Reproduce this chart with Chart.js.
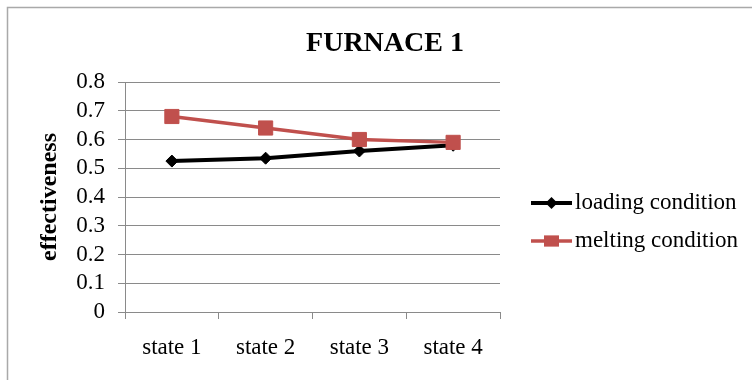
<!DOCTYPE html>
<html>
<head>
<meta charset="utf-8">
<script src="https://cdn.jsdelivr.net/npm/chart.js@4"></script>
<style>
  html, body { margin: 0; padding: 0; background: #ffffff; }
  #wrap { width: 752px; height: 380px; }
</style>
</head>
<body>
<div id="wrap"><canvas id="chart" width="752" height="380"></canvas></div>
<script>
// Effectiveness of furnace 1 across four states
const states = ['state 1', 'state 2', 'state 3', 'state 4'];
const loadingCondition = [0.525, 0.535, 0.56, 0.58];
const meltingCondition = [0.68, 0.64, 0.60, 0.59];
const yTicks = [0, 0.1, 0.2, 0.3, 0.4, 0.5, 0.6, 0.7, 0.8];

const SERIF = '"Liberation Serif", "Times New Roman", serif';
const GRID = '#8a8a8a';

const series = [
  { label: 'loading condition', data: loadingCondition, color: '#000000',
    lineWidth: 4, pointStyle: 'rectRot', pointRadius: 6, legendRadius: 6, order: 2 },
  { label: 'melting condition', data: meltingCondition, color: '#c0504d',
    lineWidth: 3.5, pointStyle: 'rect', pointRadius: 10, legendRadius: 7.5, order: 1 }
];

// Outer frame of the chart object
const framePlugin = {
  id: 'frame',
  beforeDraw(chart) {
    const ctx = chart.ctx;
    ctx.save();
    ctx.fillStyle = '#ffffff';
    ctx.fillRect(0, 0, chart.width, chart.height);
    ctx.strokeStyle = '#a9a9a9';
    ctx.lineWidth = 1.5;
    ctx.strokeRect(7.5, 7.5, chart.width + 20, chart.height + 20);
    ctx.restore();
  }
};

// Legend with a line segment and the series marker, drawn to the right of the plot
const lineLegendPlugin = {
  id: 'lineLegend',
  afterDraw(chart) {
    const ctx = chart.ctx;
    const area = chart.chartArea;
    const x0 = area.right + 31;
    const x1 = area.right + 72;
    const rows = [area.top + 121, area.top + 159];
    ctx.save();
    series.forEach((s, i) => {
      const y = rows[i];
      ctx.strokeStyle = s.color;
      ctx.lineWidth = s.lineWidth;
      ctx.beginPath();
      ctx.moveTo(x0, y);
      ctx.lineTo(x1, y);
      ctx.stroke();
      const cx = (x0 + x1) / 2;
      const r = s.legendRadius;
      ctx.fillStyle = s.color;
      ctx.beginPath();
      if (s.pointStyle === 'rectRot') {
        ctx.moveTo(cx - r, y);
        ctx.lineTo(cx, y - r);
        ctx.lineTo(cx + r, y);
        ctx.lineTo(cx, y + r);
        ctx.closePath();
      } else {
        ctx.rect(cx - r, y - r * 0.75, 2 * r, 1.5 * r);
      }
      ctx.fill();
      ctx.fillStyle = '#000000';
      ctx.font = '23px ' + SERIF;
      ctx.textAlign = 'left';
      ctx.textBaseline = 'middle';
      ctx.fillText(s.label, x1 + 3, y);
    });
    ctx.restore();
  }
};

new Chart(document.getElementById('chart'), {
  type: 'line',
  data: {
    labels: states,
    datasets: series.map(s => ({
      label: s.label,
      data: s.data,
      borderColor: s.color,
      backgroundColor: s.color,
      borderWidth: s.lineWidth,
      pointStyle: s.pointStyle,
      pointRadius: s.pointRadius,
      pointHoverRadius: s.pointRadius,
      pointBackgroundColor: s.color,
      pointBorderColor: s.color,
      pointBorderWidth: 1,
      tension: 0,
      fill: false,
      order: s.order,
      clip: false
    }))
  },
  options: {
    responsive: false,
    animation: false,
    devicePixelRatio: 1,
    layout: { padding: { left: 18, right: 0, top: 0, bottom: 0 } },
    plugins: {
      legend: { display: false },
      tooltip: { enabled: false },
      title: {
        display: true,
        text: 'FURNACE 1',
        color: '#000000',
        font: { family: SERIF, size: 28, weight: 'bold', lineHeight: 1.2 },
        padding: { top: 27, bottom: 21.4 }
      }
    },
    scales: {
      x: {
        type: 'category',
        offset: true,
        grid: {
          offset: true,
          drawOnChartArea: false,
          drawTicks: true,
          tickLength: 7,
          color: GRID,
          lineWidth: 1
        },
        border: { display: true, color: GRID, width: 1 },
        ticks: {
          color: '#000000',
          font: { family: SERIF, size: 23, lineHeight: 1.2 },
          padding: 15,
          maxRotation: 0,
          autoSkip: false
        },
        afterFit(scale) { scale.height = 68; }
      },
      y: {
        type: 'linear',
        position: 'left',
        min: 0,
        max: 0.8,
        afterBuildTicks(scale) { scale.ticks = yTicks.map(v => ({ value: v })); },
        grid: {
          drawTicks: true,
          tickLength: 7,
          color: GRID,
          lineWidth: 1
        },
        border: { display: true, color: GRID, width: 1 },
        ticks: {
          color: '#000000',
          font: { family: SERIF, size: 23, lineHeight: 1.2 },
          padding: 13,
          autoSkip: false,
          callback: v => String(Math.round(v * 10) / 10)
        },
        title: {
          display: true,
          text: 'effectiveness',
          color: '#000000',
          font: { family: SERIF, size: 24, weight: 'bold', lineHeight: 1.2 },
          padding: { top: 17, bottom: 0 }
        },
        afterFit(scale) { scale.width = 107; }
      },
      legendSpace: {
        type: 'linear',
        position: 'right',
        display: true,
        grid: { display: false, drawTicks: false },
        border: { display: false },
        ticks: { display: false },
        afterFit(scale) { scale.width = 252; }
      }
    }
  },
  plugins: [framePlugin, lineLegendPlugin]
});
</script>
</body>
</html>
